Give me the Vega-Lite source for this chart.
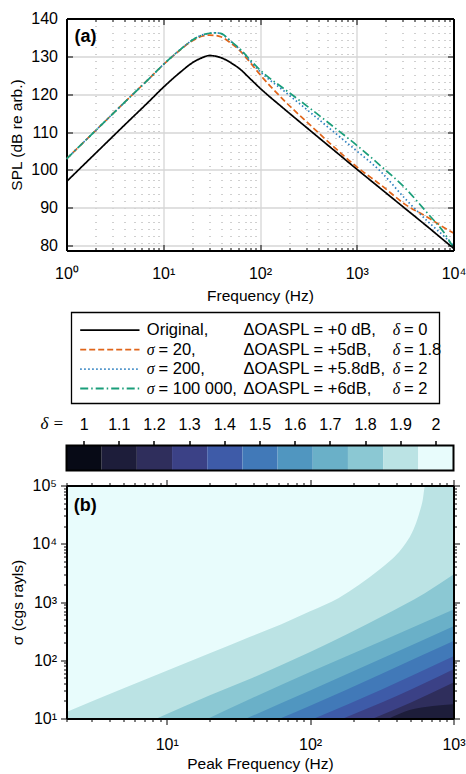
{
"$schema": "https://vega.github.io/schema/vega-lite/v6.json",
"background": "white",
"padding": {"left": 9.5, "top": 10.5, "right": 0, "bottom": 0},
"autosize": {"type": "pad"},
"spacing": 62,
"bounds": "flush",
"resolve": {"scale": {"x": "independent", "y": "independent", "color": "independent", "fill": "independent", "strokeDash": "independent"}},
"config": {
  "font": "Liberation Sans",
  "view": {"stroke": null},
  "axis": {"labelFont": "Liberation Sans", "titleFont": "Liberation Sans", "labelFontSize": 16, "titleFontSize": 15.5, "labelColor": "black", "titleColor": "black", "titleFontWeight": "normal", "tickColor": "black", "domainColor": "black", "domainWidth": 2, "tickWidth": 1, "labelOverlap": false, "labelBound": false, "labelFlush": false}
},
"vconcat": [
{
  "width": 387, "height": 232,
  "layer": [
    {
      "data": {"values": [
        {"s":"o","f":1,"v":96.9},{"s":"o","f":2,"v":104.4},{"s":"o","f":4,"v":111.9},{"s":"o","f":7.2,"v":118.2},{"s":"o","f":10,"v":121.8},{"s":"o","f":15,"v":125.8},{"s":"o","f":20,"v":128.3},{"s":"o","f":25,"v":129.6},{"s":"o","f":30,"v":130.2},{"s":"o","f":35.5,"v":130.0},{"s":"o","f":40,"v":129.6},{"s":"o","f":50,"v":128.3},{"s":"o","f":63,"v":126.5},{"s":"o","f":79,"v":124.1},{"s":"o","f":100,"v":121.6},{"s":"o","f":178,"v":116.1},{"s":"o","f":316,"v":110.8},{"s":"o","f":562,"v":105.5},{"s":"o","f":1000,"v":100.2},{"s":"o","f":1778,"v":95.0},{"s":"o","f":3162,"v":89.8},{"s":"o","f":5623,"v":84.6},{"s":"o","f":7943,"v":81.4},{"s":"o","f":10000,"v":79.3},
        {"s":"a","f":1,"v":102.9},{"s":"a","f":2,"v":110.4},{"s":"a","f":4,"v":117.9},{"s":"a","f":7.2,"v":124.2},{"s":"a","f":10,"v":127.8},{"s":"a","f":15,"v":131.7},{"s":"a","f":20,"v":134.1},{"s":"a","f":25,"v":135.3},{"s":"a","f":30,"v":135.6},{"s":"a","f":35.5,"v":135.5},{"s":"a","f":40,"v":135.1},{"s":"a","f":50,"v":133.5},{"s":"a","f":63,"v":131.3},{"s":"a","f":79,"v":128.4},{"s":"a","f":100,"v":125.2},{"s":"a","f":178,"v":118.3},{"s":"a","f":316,"v":112.3},{"s":"a","f":562,"v":106.4},{"s":"a","f":1000,"v":100.8},{"s":"a","f":1778,"v":96.0},{"s":"a","f":3162,"v":90.9},{"s":"a","f":5623,"v":87.2},{"s":"a","f":7943,"v":84.8},{"s":"a","f":10000,"v":83.3},
        {"s":"b","f":1,"v":102.9},{"s":"b","f":2,"v":110.4},{"s":"b","f":4,"v":117.9},{"s":"b","f":7.2,"v":124.2},{"s":"b","f":10,"v":127.8},{"s":"b","f":15,"v":131.8},{"s":"b","f":20,"v":134.3},{"s":"b","f":25,"v":135.6},{"s":"b","f":30,"v":136.1},{"s":"b","f":35.5,"v":136.2},{"s":"b","f":40,"v":135.9},{"s":"b","f":50,"v":133.9},{"s":"b","f":63,"v":131.6},{"s":"b","f":79,"v":128.8},{"s":"b","f":100,"v":126.0},{"s":"b","f":178,"v":120.8},{"s":"b","f":316,"v":115.6},{"s":"b","f":562,"v":110.3},{"s":"b","f":1000,"v":105.0},{"s":"b","f":1778,"v":99.5},{"s":"b","f":3162,"v":92.4},{"s":"b","f":5623,"v":86.0},{"s":"b","f":7943,"v":82.5},{"s":"b","f":10000,"v":80.0},
        {"s":"c","f":1,"v":102.9},{"s":"c","f":2,"v":110.4},{"s":"c","f":4,"v":117.9},{"s":"c","f":7.2,"v":124.2},{"s":"c","f":10,"v":127.8},{"s":"c","f":15,"v":131.8},{"s":"c","f":20,"v":134.3},{"s":"c","f":25,"v":135.6},{"s":"c","f":30,"v":136.1},{"s":"c","f":35.5,"v":136.2},{"s":"c","f":40,"v":136.0},{"s":"c","f":50,"v":134.0},{"s":"c","f":63,"v":131.8},{"s":"c","f":79,"v":129.1},{"s":"c","f":100,"v":126.4},{"s":"c","f":178,"v":121.4},{"s":"c","f":316,"v":116.6},{"s":"c","f":562,"v":111.6},{"s":"c","f":1000,"v":106.5},{"s":"c","f":1778,"v":101.0},{"s":"c","f":3162,"v":95.2},{"s":"c","f":5623,"v":88.0},{"s":"c","f":7943,"v":83.5},{"s":"c","f":10000,"v":79.4}
      ]},
      "mark": {"type": "line", "strokeWidth": 1.7, "interpolate": "monotone", "clip": true},
      "encoding": {
        "x": {"field": "f", "type": "quantitative",
          "scale": {"type": "log", "domain": [1, 10000], "nice": false},
          "axis": {"orient": "bottom", "title": "Frequency (Hz)", "titlePadding": 4,
            "values": [1,2,3,4,5,6,7,8,9,10,20,30,40,50,60,70,80,90,100,200,300,400,500,600,700,800,900,1000,2000,3000,4000,5000,6000,7000,8000,9000,10000],
            "labelExpr": "abs(log(datum.value)/LN10 - round(log(datum.value)/LN10)) < 0.001 ? '10' + ['⁰','¹','²','³','⁴','⁵'][round(log(datum.value)/LN10)] : ''",
            "tickSize": {"condition": {"test": "abs(log(datum.value)/LN10 - round(log(datum.value)/LN10)) < 0.001", "value": -6}, "value": -3},
            "labelPadding": 21,
            "grid": true,
            "gridColor": {"condition": {"test": "abs(log(datum.value)/LN10 - round(log(datum.value)/LN10)) < 0.001", "value": "#d6d6d6"}, "value": "#a0a0a0"},
            "gridDash": {"condition": {"test": "abs(log(datum.value)/LN10 - round(log(datum.value)/LN10)) < 0.001", "value": [1, 0]}, "value": [1, 6]},
            "gridWidth": {"condition": {"test": "abs(log(datum.value)/LN10 - round(log(datum.value)/LN10)) < 0.001", "value": 1.3}, "value": 1}
          }},
        "y": {"field": "v", "type": "quantitative",
          "scale": {"domain": [78.7, 140], "nice": false, "zero": false},
          "axis": {"orient": "left", "title": "SPL (dB re arb.)", "values": [80,90,100,110,120,130,140], "tickSize": -6, "labelPadding": 15, "titlePadding": 6, "grid": true, "gridColor": "#d6d6d6", "gridWidth": 1.3}},
        "color": {"field": "s", "type": "nominal", "scale": {"domain": ["o","a","b","c"], "range": ["#000000", "#e0651a", "#2c7fc0", "#1a9e7a"]}, "legend": null},
        "strokeDash": {"field": "s", "type": "nominal", "scale": {"domain": ["o","a","b","c"], "range": [[1,0],[6,3],[1.5,2.5],[8,3,1.5,3]]}, "legend": null}
      }
    },
    {
      "data": {"values": [{"t": "(a)"}]},
      "mark": {"type": "text", "font": "Liberation Sans", "fontSize": 18, "fontWeight": "bold", "align": "left", "baseline": "middle"},
      "encoding": {
        "text": {"field": "t"},
        "x": {"datum": 1.21, "type": "quantitative", "scale": {"type": "log", "domain": [1, 10000], "nice": false},
          "axis": {"orient": "top", "title": null, "labels": false, "grid": false, "zindex": 1,
            "values": [1,2,3,4,5,6,7,8,9,10,20,30,40,50,60,70,80,90,100,200,300,400,500,600,700,800,900,1000,2000,3000,4000,5000,6000,7000,8000,9000,10000],
            "tickSize": {"condition": {"test": "abs(log(datum.value)/LN10 - round(log(datum.value)/LN10)) < 0.001", "value": -6}, "value": -3}}},
        "y": {"datum": 135.1, "type": "quantitative", "scale": {"domain": [78.7, 140], "nice": false, "zero": false},
          "axis": {"orient": "right", "title": null, "labels": false, "grid": false, "zindex": 1, "values": [80,90,100,110,120,130,140], "tickSize": -6}}
      }
    }
  ]
},
{
  "spacing": 42,
  "bounds": "flush",
  "resolve": {"scale": {"x": "independent", "y": "independent", "color": "independent", "fill": "independent", "strokeDash": "independent"}},
  "vconcat": [
    {
      "width": 387, "height": 91,
      "data": {"values": [
        {"s":"o","sym":"","name":"Original,","oaspl":"ΔOASPL = +0 dB,","d":"= 0"},
        {"s":"a","sym":"σ","name":"= 20,","oaspl":"ΔOASPL = +5dB,","d":"= 1.8"},
        {"s":"b","sym":"σ","name":"= 200,","oaspl":"ΔOASPL = +5.8dB,","d":"= 2"},
        {"s":"c","sym":"σ","name":"= 100 000,","oaspl":"ΔOASPL = +6dB,","d":"= 2"}
      ]},
      "layer": [
        {
          "data": {"values": [{"box": 1}]},
          "mark": {"type": "rect", "fill": "white", "stroke": "black", "strokeWidth": 1.3},
          "encoding": {
            "x": {"datum": 5, "type": "quantitative", "scale": {"domain": [0, 387], "nice": false, "zero": false}, "axis": null},
            "x2": {"datum": 373}
          }
        },
        {
          "mark": {"type": "rule", "strokeWidth": 1.8},
          "encoding": {
            "x": {"datum": 13.7, "type": "quantitative", "scale": {"domain": [0, 387], "nice": false, "zero": false}, "axis": null},
            "x2": {"datum": 73},
            "y": {"field": "s", "type": "nominal", "scale": {"type": "point", "domain": ["o","a","b","c"], "range": [17.7, 76], "padding": 0}, "axis": null},
            "color": {"field": "s", "type": "nominal", "scale": {"domain": ["o","a","b","c"], "range": ["#000000", "#e0651a", "#2c7fc0", "#1a9e7a"]}, "legend": null},
            "strokeDash": {"field": "s", "type": "nominal", "scale": {"domain": ["o","a","b","c"], "range": [[1,0],[6,3],[1.5,2.5],[8,3,1.5,3]]}, "legend": null}
          }
        },
        {
          "transform": [{"filter": "datum.sym == ''"}],
          "mark": {"type": "text", "fontSize": 16.5, "align": "left", "baseline": "middle", "font": "Liberation Sans"},
          "encoding": {
            "x": {"datum": 80.3, "type": "quantitative"},
            "y": {"field": "s", "type": "nominal"},
            "text": {"field": "name"}
          }
        },
        {
          "transform": [{"filter": "datum.sym != ''"}],
          "mark": {"type": "text", "fontSize": 16, "align": "left", "baseline": "middle", "font": "Liberation Serif", "fontStyle": "italic"},
          "encoding": {
            "x": {"datum": 80.3, "type": "quantitative"},
            "y": {"field": "s", "type": "nominal"},
            "text": {"field": "sym"}
          }
        },
        {
          "transform": [{"filter": "datum.sym != ''"}],
          "mark": {"type": "text", "fontSize": 16.5, "align": "left", "baseline": "middle", "font": "Liberation Sans"},
          "encoding": {
            "x": {"datum": 92, "type": "quantitative"},
            "y": {"field": "s", "type": "nominal"},
            "text": {"field": "name"}
          }
        },
        {
          "mark": {"type": "text", "fontSize": 16.5, "align": "left", "baseline": "middle", "font": "Liberation Sans"},
          "encoding": {
            "x": {"datum": 177, "type": "quantitative"},
            "y": {"field": "s", "type": "nominal"},
            "text": {"field": "oaspl"}
          }
        },
        {
          "mark": {"type": "text", "fontSize": 16, "align": "left", "baseline": "middle", "font": "Liberation Serif", "fontStyle": "italic"},
          "encoding": {
            "x": {"datum": 326.3, "type": "quantitative"},
            "y": {"field": "s", "type": "nominal"},
            "text": {"value": "δ"}
          }
        },
        {
          "mark": {"type": "text", "fontSize": 16.5, "align": "left", "baseline": "middle", "font": "Liberation Sans"},
          "encoding": {
            "x": {"datum": 337.5, "type": "quantitative"},
            "y": {"field": "s", "type": "nominal"},
            "text": {"field": "d"}
          }
        }
      ]
    },
    {
      "spacing": 15,
      "bounds": "flush",
      "resolve": {"scale": {"x": "independent", "y": "independent", "color": "independent", "fill": "independent", "strokeDash": "independent"}},
      "vconcat": [
        {
          "width": 387, "height": 25,
          "layer": [
            {
              "data": {"values": [{"d":"1"},{"d":"1.1"},{"d":"1.2"},{"d":"1.3"},{"d":"1.4"},{"d":"1.5"},{"d":"1.6"},{"d":"1.7"},{"d":"1.8"},{"d":"1.9"},{"d":"2"}]},
              "mark": {"type": "rect"},
              "encoding": {
                "x": {"field": "d", "type": "ordinal", "scale": {"domain": ["1","1.1","1.2","1.3","1.4","1.5","1.6","1.7","1.8","1.9","2"], "paddingInner": 0, "paddingOuter": 0},
                  "axis": {"orient": "top", "title": "δ =", "titleFont": "Liberation Serif", "titleFontStyle": "italic", "titleFontSize": 17, "titleAngle": 0, "titleAlign": "right", "titleBaseline": "bottom", "titleX": -3, "titleY": -13, "labelAngle": 0, "tickSize": 5, "tickWidth": 1.5, "labelPadding": 8, "domain": false}},
                "fill": {"field": "d", "type": "ordinal", "scale": {"domain": ["1","1.1","1.2","1.3","1.4","1.5","1.6","1.7","1.8","1.9","2"], "range": ["#070a16","#1d1d3a","#2f2e5c","#3b4186","#3e5ba8","#4179b8","#5096c0","#6ab0c8","#8bc8d3","#bbe3e4","#e8fcfc"]}, "legend": null}
              }
            },
            {
              "data": {"values": [{"frame": 1}]},
              "mark": {"type": "rect", "fill": null, "stroke": "black", "strokeWidth": 2}
            }
          ]
        },
        {
          "width": 387, "height": 233,
          "layer": [
            {
              "data": {"values": [
                {"b":"a","f":2,"s":100000},{"b":"a","f":1000,"s":100000},
                {"b":"b","f":2,"s":12.9},{"b":"b","f":5.01,"s":33.1},{"b":"b","f":10,"s":66.1},{"b":"b","f":19.95,"s":131.8},{"b":"b","f":37.8,"s":251},{"b":"b","f":63.1,"s":417},{"b":"b","f":100,"s":692},{"b":"b","f":158.5,"s":1175},{"b":"b","f":221,"s":1995},{"b":"b","f":305,"s":3597},{"b":"b","f":358,"s":5012},{"b":"b","f":417,"s":7244},{"b":"b","f":468,"s":10471},{"b":"b","f":525,"s":17378},{"b":"b","f":573,"s":31623},{"b":"b","f":610,"s":56234},{"b":"b","f":635,"s":100000},{"b":"b","f":1000,"s":100000},
                {"b":"c","f":8.51,"s":10},{"b":"c","f":20,"s":25.1},{"b":"c","f":39.8,"s":50.1},{"b":"c","f":100,"s":138},{"b":"c","f":316,"s":562},{"b":"c","f":631,"s":1413},{"b":"c","f":1000,"s":2951},
                {"b":"d","f":19.5,"s":10},{"b":"d","f":37.8,"s":21.4},{"b":"d","f":100,"s":63.1},{"b":"d","f":316,"s":214},{"b":"d","f":1000,"s":741},
                {"b":"e","f":35.9,"s":10},{"b":"e","f":100,"s":30.2},{"b":"e","f":316,"s":107},{"b":"e","f":1000,"s":385},
                {"b":"f","f":61.7,"s":10},{"b":"f","f":100,"s":16.6},{"b":"f","f":316,"s":58.9},{"b":"f","f":1000,"s":214},
                {"b":"g","f":107,"s":10},{"b":"g","f":316,"s":31.6},{"b":"g","f":1000,"s":117},
                {"b":"h","f":170,"s":10},{"b":"h","f":398,"s":24},{"b":"h","f":1000,"s":69.8},
                {"b":"i","f":275,"s":10},{"b":"i","f":501,"s":18.6},{"b":"i","f":1000,"s":41.3},
                {"b":"j","f":355,"s":10},{"b":"j","f":501,"s":14.1},{"b":"j","f":718,"s":16.4},{"b":"j","f":1000,"s":17.6}
              ]},
              "mark": {"type": "area", "interpolate": "monotone", "clip": true},
              "encoding": {
                "x": {"field": "f", "type": "quantitative", "scale": {"type": "log", "domain": [2, 1000], "nice": false},
                  "axis": {"orient": "bottom", "title": "Peak Frequency (Hz)", "titlePadding": 4, "zindex": 1,
                    "values": [2,3,4,5,6,7,8,9,10,20,30,40,50,60,70,80,90,100,200,300,400,500,600,700,800,900,1000],
                    "labelExpr": "abs(log(datum.value)/LN10 - round(log(datum.value)/LN10)) < 0.001 ? '10' + ['⁰','¹','²','³','⁴','⁵'][round(log(datum.value)/LN10)] : ''",
                    "tickSize": {"condition": {"test": "abs(log(datum.value)/LN10 - round(log(datum.value)/LN10)) < 0.001", "value": 6}, "value": 3},
                    "labelPadding": 12, "grid": false}},
                "y": {"field": "s", "type": "quantitative", "stack": null, "scale": {"type": "log", "domain": [10, 100000], "nice": false},
                  "axis": {"orient": "left", "title": "σ (cgs rayls)", "zindex": 1, "titlePadding": 6,
                    "values": [10,20,30,40,50,60,70,80,90,100,200,300,400,500,600,700,800,900,1000,2000,3000,4000,5000,6000,7000,8000,9000,10000,20000,30000,40000,50000,60000,70000,80000,90000,100000],
                    "labelExpr": "abs(log(datum.value)/LN10 - round(log(datum.value)/LN10)) < 0.001 ? '10' + ['⁰','¹','²','³','⁴','⁵'][round(log(datum.value)/LN10)] : ''",
                    "tickSize": {"condition": {"test": "abs(log(datum.value)/LN10 - round(log(datum.value)/LN10)) < 0.001", "value": 6}, "value": 3},
                    "labelPadding": 4, "grid": false}},
                "y2": {"datum": 10},
                "fill": {"field": "b", "type": "nominal", "scale": {"domain": ["a","b","c","d","e","f","g","h","i","j"], "range": ["#e8fcfc","#bbe3e4","#8bc8d3","#6ab0c8","#5096c0","#4179b8","#3e5ba8","#3b4186","#2f2e5c","#1d1d3a"]}, "legend": null}
              }
            },
            {
              "data": {"values": [{"t": "(b)"}]},
              "mark": {"type": "text", "font": "Liberation Sans", "fontSize": 18, "fontWeight": "bold", "align": "left", "baseline": "middle"},
              "encoding": {
                "text": {"field": "t"},
                "x": {"datum": 2.25, "type": "quantitative", "scale": {"type": "log", "domain": [2, 1000], "nice": false},
                  "axis": {"orient": "top", "title": null, "labels": false, "grid": false, "zindex": 1,
                    "values": [2,3,4,5,6,7,8,9,10,20,30,40,50,60,70,80,90,100,200,300,400,500,600,700,800,900,1000],
                    "tickSize": {"condition": {"test": "abs(log(datum.value)/LN10 - round(log(datum.value)/LN10)) < 0.001", "value": 6}, "value": 3}}},
                "y": {"datum": 44900, "type": "quantitative", "scale": {"type": "log", "domain": [10, 100000], "nice": false},
                  "axis": {"orient": "right", "title": null, "labels": false, "grid": false, "zindex": 1,
                    "values": [10,20,30,40,50,60,70,80,90,100,200,300,400,500,600,700,800,900,1000,2000,3000,4000,5000,6000,7000,8000,9000,10000,20000,30000,40000,50000,60000,70000,80000,90000,100000],
                    "tickSize": {"condition": {"test": "abs(log(datum.value)/LN10 - round(log(datum.value)/LN10)) < 0.001", "value": 6}, "value": 3}}}
              }
            }
          ]
        }
      ]
    }
  ]
}
]
}
